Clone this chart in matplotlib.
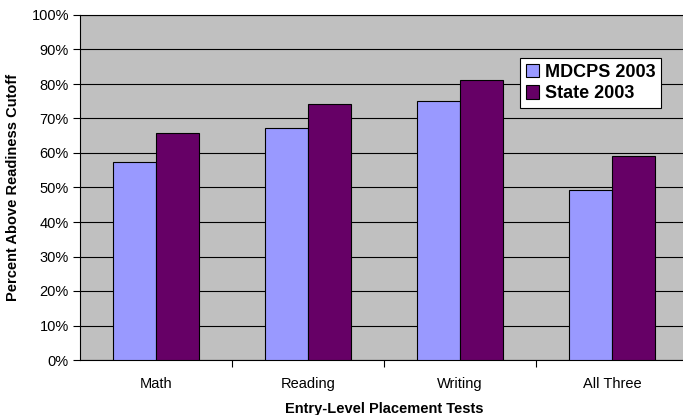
import matplotlib.pyplot as plt
import numpy as np

plt.rcParams['font.family'] = ['Liberation Sans', 'DejaVu Sans']

categories = ['Math', 'Reading', 'Writing', 'All Three']
mdcps_2003 = [57.3, 67.2, 75.0, 49.4]
state_2003 = [65.7, 74.2, 81.1, 59.1]
yticks = [0, 10, 20, 30, 40, 50, 60, 70, 80, 90, 100]

fig = plt.figure(figsize=(6.83, 4.15), dpi=100)
ax = fig.add_axes([80 / 683, 55 / 415, 608 / 683, 345 / 415])
ax.set_facecolor('#C0C0C0')

x = np.arange(len(categories))
w = 0.286
ax.bar(x - w / 2, mdcps_2003, w, color='#9999FF', edgecolor='black', linewidth=0.8,
       label='MDCPS 2003', zorder=3)
ax.bar(x + w / 2, state_2003, w, color='#660066', edgecolor='black', linewidth=0.8,
       label='State 2003', zorder=3)

ax.set_xlim(-0.5, len(categories) - 0.5)
ax.set_ylim(0, 100)
ax.set_yticks(yticks)
ax.set_yticklabels([f'{v}%' for v in yticks], fontsize=10.5)
ax.set_xticks(x)
ax.set_xticklabels(categories, fontsize=10.5)
ax.set_xticks(np.arange(0.5, len(categories) - 0.5), minor=True)
ax.tick_params(axis='x', which='major', length=0, pad=12)
ax.tick_params(axis='x', which='minor', length=5, width=0.8, direction='out')
ax.tick_params(axis='y', length=5, width=0.8, direction='out', pad=3)
ax.yaxis.grid(True, color='black', linewidth=0.8, zorder=0)
ax.set_axisbelow(True)
for s in ax.spines.values():
    s.set_linewidth(0.8)
    s.set_color('black')

ax.set_xlabel('Entry-Level Placement Tests', fontsize=10.5, fontweight='bold', labelpad=8)
ax.set_ylabel('Percent Above Readiness Cutoff', fontsize=10.5, fontweight='bold', labelpad=8)

leg = ax.legend(loc='upper left', bbox_to_anchor=(0.724, 0.874), fontsize=13,
                prop={'weight': 'bold', 'size': 13}, frameon=True, fancybox=False,
                edgecolor='black', framealpha=1, borderpad=0.3, labelspacing=0.25,
                handlelength=0.75, handleheight=0.75, handletextpad=0.3, borderaxespad=0)
leg.get_frame().set_linewidth(0.8)

fig.savefig('out.png', dpi=100)
